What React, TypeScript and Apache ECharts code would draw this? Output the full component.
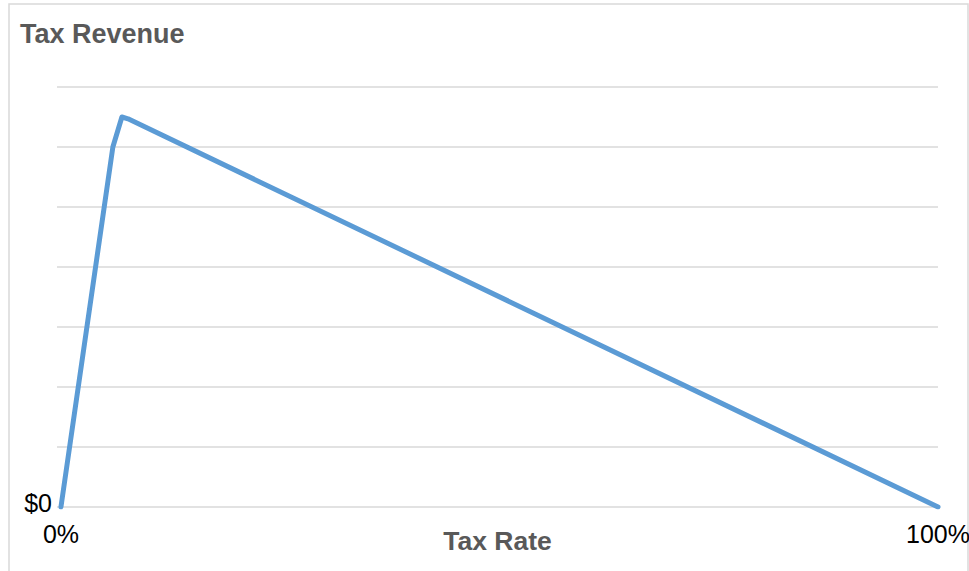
import React, { useEffect, useRef } from "react";
import * as echarts from "echarts";

const taxRates = [0, 5.92, 6.95, 7.65, 100];
const taxRevenue = [0, 6, 6.5, 6.47, 0];
const xTickValues = [0, 100];
const yTickLabel = "$0";

export default function App() {
  const ref = useRef<HTMLDivElement>(null);
  useEffect(() => {
    if (!ref.current) return;
    const chart = echarts.init(ref.current, null, { renderer: "svg" });
    const font = "'Liberation Sans', Arial, sans-serif";
    chart.setOption({
      animation: false,
      backgroundColor: "#ffffff",
      title: {
        text: "Tax Revenue",
        left: 20,
        top: 20,
        padding: 0,
        textStyle: { fontSize: 27, fontWeight: "bold", color: "#595959", fontFamily: font },
      },
      graphic: [
        {
          type: "rect",
          shape: { x: 9, y: 4, width: 959, height: 640 },
          style: { fill: "none", stroke: "#d9d9d9", lineWidth: 1.5 },
          silent: true,
        },
      ],
      grid: { left: 57, right: 31, top: 87, bottom: 64, outerBoundsMode: "none", containLabel: false },
      xAxis: {
        type: "value",
        min: -0.45,
        max: 100,
        name: "Tax Rate",
        nameLocation: "middle",
        nameGap: 20,
        nameMoveOverlap: false,
        nameTextStyle: { fontSize: 26.5, fontWeight: "bold", color: "#595959", fontFamily: font },
        axisLine: { show: false },
        axisTick: { show: false },
        splitLine: { show: false },
        axisLabel: {
          customValues: xTickValues,
          formatter: (v: number) => `${v}%`,
          fontSize: 25,
          color: "#000",
          fontFamily: font,
          margin: 14,
          showMinLabel: true,
          showMaxLabel: true,
        },
      },
      yAxis: {
        type: "value",
        min: 0,
        max: 7,
        interval: 1,
        axisLine: { show: false },
        axisTick: { show: false },
        splitLine: { lineStyle: { color: "#d9d9d9", width: 1.5 } },
        axisLabel: {
          formatter: (v: number) => (v === 0 ? yTickLabel : ""),
          fontSize: 25,
          color: "#000",
          fontFamily: font,
          margin: 5,
          verticalAlign: "bottom",
          padding: [0, 0, -8, 0],
        },
      },
      series: [
        {
          type: "line",
          data: taxRates.map((r, i) => [r, taxRevenue[i]]),
          showSymbol: false,
          lineStyle: { color: "#5b9bd5", width: 5, join: "round", cap: "round" },
          z: 5,
        },
      ],
    });
    return () => chart.dispose();
  }, []);
  return (
    <div
      ref={ref}
      style={{ position: "absolute", left: 0, top: 0, width: 969, height: 571 }}
    />
  );
}
